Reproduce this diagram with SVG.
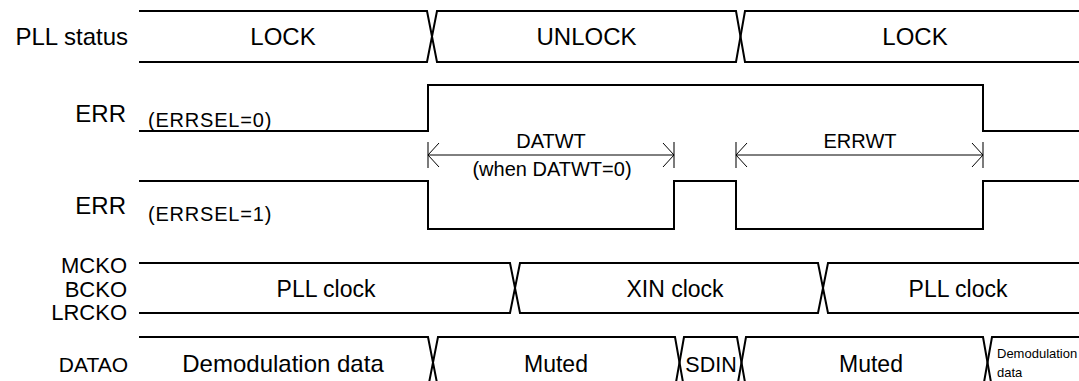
<svg xmlns="http://www.w3.org/2000/svg" width="1079" height="381" viewBox="0 0 1079 381">
  <style>
    text { font-family: "Liberation Sans", Arial, sans-serif; fill: #000; }
    .lbl { font-size: 24px; text-anchor: end; }
    .lbl2 { font-size: 22px; text-anchor: end; }
    .val { font-size: 24px; text-anchor: middle; }
    .sel { font-size: 20px; letter-spacing: 0.8px; }
    .dim { font-size: 20px; text-anchor: middle; }
    .small { font-size: 13px; }
    .wave { fill: none; stroke: #000; stroke-width: 2; stroke-linejoin: miter; }
    .dimline { fill: none; stroke: #000; stroke-width: 1; marker-start: url(#dimArrow); marker-end: url(#dimArrow); }
  </style>
  <defs>
    <marker id="dimArrow" markerUnits="userSpaceOnUse" viewBox="-13 -14 15 28" refX="0" refY="0" markerWidth="15" markerHeight="28" orient="auto-start-reverse" overflow="visible">
      <path d="M0,-13 V13" stroke="#333" stroke-width="1.3" fill="none"/>
      <path d="M-11,-12 L0,0 L-11,12" stroke="#000" stroke-width="1" fill="none"/>
    </marker>
  </defs>
  <rect width="1079" height="381" fill="#fff"/>

  <g id="sig-pll-status">
    <text class="lbl" x="128" y="45">PLL status</text>
    <path class="wave" d="M139,11 H427 L437,62 H736 L745,11 H1080"/>
    <path class="wave" d="M139,62 H427 L437,11 H736 L745,62 H1080"/>
    <text class="val" x="283" y="45">LOCK</text>
    <text class="val" x="586.5" y="45">UNLOCK</text>
    <text class="val" x="915" y="45">LOCK</text>
  </g>

  <g id="sig-err-errsel0">
    <text class="lbl" x="126" y="122">ERR</text>
    <text class="sel" x="148" y="127">(ERRSEL=0)</text>
    <path class="wave" d="M139,131 H428 V85 H983 V131 H1080"/>
  </g>

  <g id="sig-err-errsel1">
    <text class="lbl" x="126" y="214">ERR</text>
    <text class="sel" x="148" y="221">(ERRSEL=1)</text>
    <path class="wave" d="M139,181 H428 V229 H674 V181 H736 V229 H983 V181 H1080"/>
  </g>

  <g id="sig-clocks">
    <text class="lbl2" x="127" y="273">MCKO</text>
    <text class="lbl2" x="127" y="296.5">BCKO</text>
    <text class="lbl2" x="127" y="320">LRCKO</text>
    <path class="wave" d="M139,263 H510 L520,313 H818 L828,263 H1080"/>
    <path class="wave" d="M139,313 H510 L520,263 H818 L828,313 H1080"/>
    <text class="val" style="font-size:23px" x="326" y="296.5">PLL clock</text>
    <text class="val" style="font-size:23px" x="675" y="296.5">XIN clock</text>
    <text class="val" style="font-size:23px" x="958" y="296.5">PLL clock</text>
  </g>

  <g id="sig-datao">
    <text class="lbl" style="font-size:21px" x="128" y="372">DATAO</text>
    <path class="wave" d="M139,337 H428 L438,388 H675 L684,337 H737 L746,388 H983 L992,337 H1080"/>
    <path class="wave" d="M139,388 H428 L438,337 H675 L684,388 H737 L746,337 H983 L992,388 H1080"/>
    <text class="val" x="283" y="372">Demodulation data</text>
    <text class="val" style="font-size:23px" x="556" y="372">Muted</text>
    <text class="val" style="font-size:21.5px" x="711" y="372">SDIN</text>
    <text class="val" style="font-size:23px" x="871" y="372">Muted</text>
    <text class="small" x="997" y="358">Demodulation</text>
    <text class="small" x="997" y="377">data</text>
  </g>

  <g id="connectors">
    <g id="dim-datwt">
      <path class="dimline" d="M428,155 H674"/>
      <text class="dim" x="551" y="148">DATWT</text>
      <text class="dim" x="552" y="176">(when DATWT=0)</text>
    </g>
    <g id="dim-errwt">
      <path class="dimline" d="M736,155 H983"/>
      <text class="dim" x="860" y="148">ERRWT</text>
    </g>
  </g>
</svg>
